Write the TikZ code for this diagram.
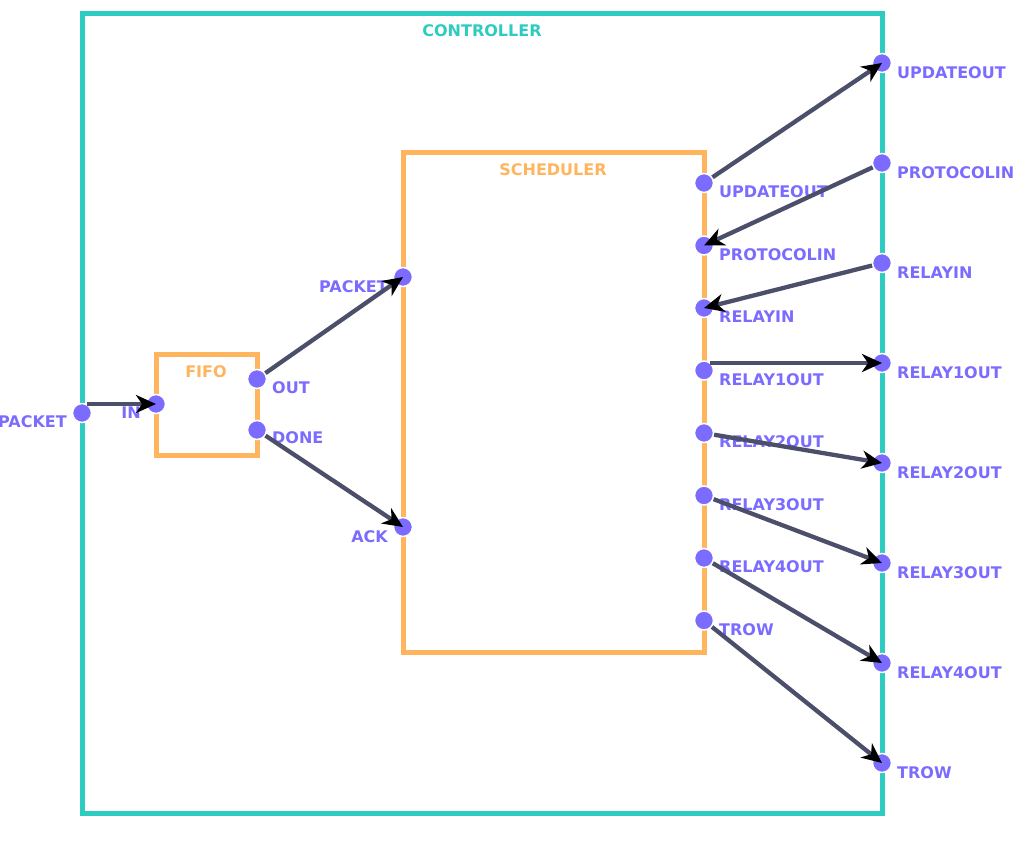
\documentclass[tikz,border=0pt]{standalone}
\usepackage{fontspec}
\setmainfont{DejaVu Sans}
\usetikzlibrary{arrows.meta}
\definecolor{ctrlc}{HTML}{2ECCC0}
\definecolor{blockc}{HTML}{FFB45E}
\definecolor{portc}{HTML}{7B6CFF}
\definecolor{wirec}{HTML}{4B4F6A}
\begin{document}
\begin{tikzpicture}[x=1pt,y=-1pt,
  port/.style={circle, fill=portc, draw=white, line width=1.5pt, inner sep=0pt, minimum size=19pt},
  lbl/.style={text=portc, font=\bfseries\fontsize{16}{19}\selectfont, inner sep=0pt},
  title/.style={font=\bfseries\fontsize{16}{19}\selectfont, inner sep=0pt},
  box/.style={line width=5pt},
  wire/.style={draw=wirec, line width=4.3pt, -{Stealth[black,length=20pt,width=18pt,inset=6pt]}}]
\useasboundingbox (0,0) rectangle (1014,849);

% containers
\draw[box, ctrlc] (82,13) rectangle (882,813);
\node[title, text=ctrlc] (ctrltitle) at (482,31) {CONTROLLER};
\draw[box, blockc] (156,354) rectangle (257,455);
\node[title, text=blockc] (fifotitle) at (206,372) {FIFO};
\draw[box, blockc] (403,152) rectangle (704,652);
\node[title, text=blockc] (schedtitle) at (553,170) {SCHEDULER};

% controller ports
\node[port] (cpacket) at (82,413) {};
\node[lbl, anchor=east] at (67,422) {PACKET};
\foreach \n/\t [count=\i from 0] in {cupd/UPDATEOUT, cproto/PROTOCOLIN, crelayin/RELAYIN,
    cr1/RELAY1OUT, cr2/RELAY2OUT, cr3/RELAY3OUT, cr4/RELAY4OUT, ctrow/TROW}{
  \node[port] (\n) at (882,63+100*\i) {};
  \node[lbl, anchor=west] at (897,73+100*\i) {\t};
}

% fifo ports
\node[port] (fin) at (156,404) {};
\node[lbl, anchor=east] at (141,413) {IN};
\node[port] (fout) at (257,379) {};
\node[lbl, anchor=west] at (272,388) {OUT};
\node[port] (fdone) at (257,430) {};
\node[lbl, anchor=west] at (272,438) {DONE};

% scheduler ports
\node[port] (spacket) at (403,277) {};
\node[lbl, anchor=east] at (388,287) {PACKET};
\node[port] (sack) at (403,527) {};
\node[lbl, anchor=east] at (388,537) {ACK};
\foreach \n/\t [count=\i from 0] in {supd/UPDATEOUT, sproto/PROTOCOLIN, srelayin/RELAYIN,
    sr1/RELAY1OUT, sr2/RELAY2OUT, sr3/RELAY3OUT, sr4/RELAY4OUT, strow/TROW}{
  \node[port] (\n) at (704,183+62.5*\i) {};
  \node[lbl, anchor=west] at (719,192+62.5*\i) {\t};
}

% straight wire ends
\coordinate (packetout) at (87,404);
\coordinate (relay1src) at (710,363);

% connections
\draw[wire] (packetout) -- (fin.center);
\draw[wire] (fout) -- (spacket.center);
\draw[wire] (fdone) -- (sack.center);
\draw[wire] (supd) -- (cupd.center);
\draw[wire] (cproto) -- (sproto.center);
\draw[wire] (crelayin) -- (srelayin.center);
\draw[wire] (relay1src) -- (cr1.center);
\draw[wire] (sr2) -- (cr2.center);
\draw[wire] (sr3) -- (cr3.center);
\draw[wire] (sr4) -- (cr4.center);
\draw[wire] (strow) -- (ctrow.center);
\end{tikzpicture}
\end{document}
